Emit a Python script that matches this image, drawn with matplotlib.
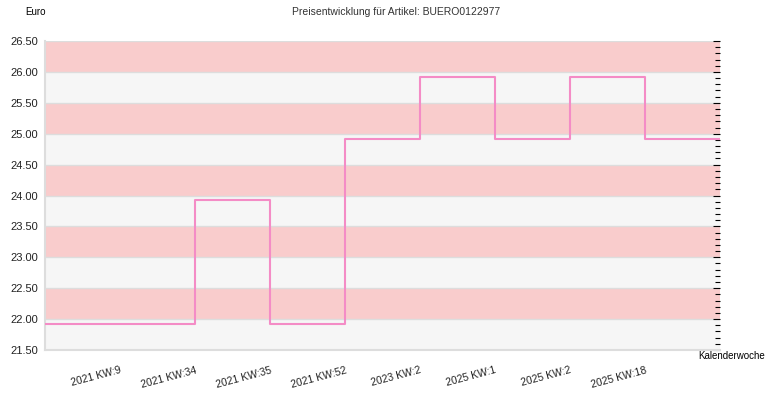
import numpy as np
import matplotlib
matplotlib.use("Agg")
from matplotlib import pyplot as plt
from matplotlib.ticker import MultipleLocator

weeks = ["2021 KW:9", "2021 KW:34", "2021 KW:35", "2021 KW:52",
         "2023 KW:2", "2025 KW:1", "2025 KW:2", "2025 KW:18"]
prices = [21.92, 23.92, 21.92, 24.92, 25.92, 24.92, 25.92, 24.92]
y_ticks = [21.5, 22.0, 22.5, 23.0, 23.5, 24.0, 24.5, 25.0, 25.5, 26.0, 26.5]

plt.rcParams['font.family'] = ['Liberation Sans', 'DejaVu Sans']

fig = plt.figure(figsize=(7.7, 4), dpi=100)
ax = fig.add_axes([45/770, 1-350/400, 675/770, 309/400])

# alternating bands, pink on the upper half of each unit
for lo, hi in zip(y_ticks[:-1], y_ticks[1:]):
    col = "#f9cccc" if (lo * 2) % 2 == 0 else "#f6f6f6"
    ax.axhspan(lo, hi, color=col, lw=0, zorder=0)
for t in y_ticks:
    ax.axhline(t, color="#dddddd", lw=1, zorder=1)

# step line, held value until the next week, padded to both edges
x = np.arange(len(weeks))
xs = np.concatenate([[-1], x, [len(weeks)]])
ys = np.concatenate([[prices[0]], prices, [prices[-1]]])
ax.step(xs, ys, where="post", color="#f48cc6", lw=1.5, zorder=3)

ax.set_xlim(-1, len(weeks))
ax.set_ylim(21.5, 26.5)
ax.set_yticks(y_ticks)
ax.set_yticklabels([f"{t:.2f}" for t in y_ticks], fontsize=8, color="#222222")
ax.yaxis.set_minor_locator(MultipleLocator(0.1))
ax.tick_params(axis="y", which="both", left=False, right=True, direction="in",
               labelleft=True, labelright=False, color="black", pad=5)
ax.tick_params(axis="y", which="major", length=5, width=0.8)
ax.tick_params(axis="y", which="minor", length=3.5, width=0.8)

ax.set_xticks(x)
ax.set_xticklabels(weeks, rotation=15, ha="right", rotation_mode="anchor",
                   fontsize=7.5, color="#222222")
ax.tick_params(axis="x", length=0, pad=11)

for side in ["top", "right"]:
    ax.spines[side].set_visible(False)
for side in ["left", "bottom"]:
    ax.spines[side].set_color("#dddddd")
    ax.spines[side].set_linewidth(1.5)

fig.text(396/770, 1-12/400, "Preisentwicklung für Artikel: BUERO0122977",
         ha="center", va="center", fontsize=7.5, color="#333333")
fig.text(35/770, 1-12/400, "Euro", ha="center", va="center", fontsize=7, color="black")
fig.text(765/770, 1-356/400, "Kalenderwoche", ha="right", va="center",
         fontsize=7, color="black")

fig.savefig("out.png", dpi=100)
